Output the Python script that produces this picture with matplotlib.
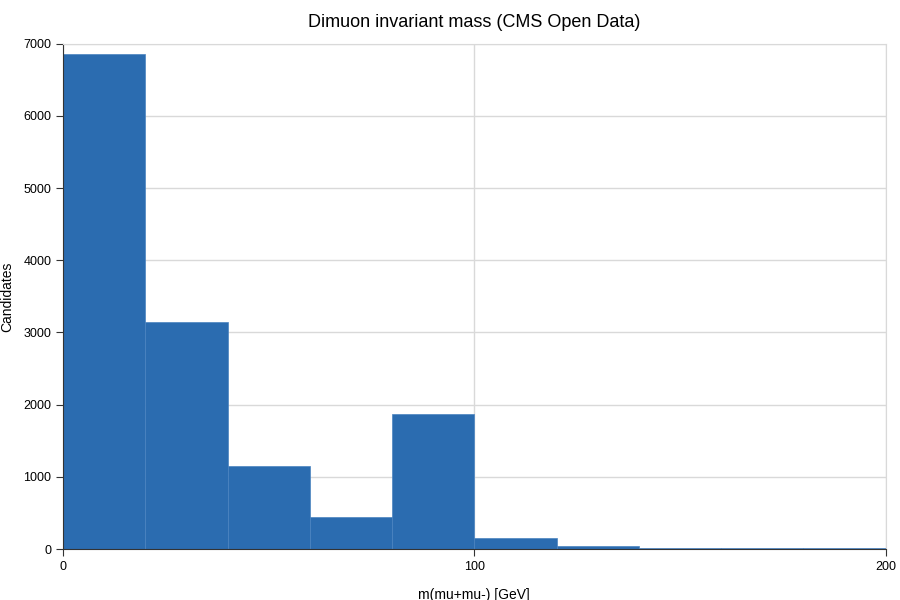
import numpy as np
import matplotlib.pyplot as plt

plt.rcParams["font.family"] = ["Liberation Sans", "DejaVu Sans"]

# histogram bins and counts
bin_edges = [0, 20, 40, 60, 80, 100, 120, 140, 160, 180, 200]
counts = [6860, 3150, 1150, 440, 1870, 150, 38, 18, 14, 20]

fig = plt.figure(figsize=(9, 6), dpi=100)
ax = fig.add_axes([0.07, 0.085, 0.914, 0.842])

lefts = np.array(bin_edges[:-1])
widths = np.diff(bin_edges)
ax.bar(lefts, counts, width=widths, align="edge", color="#2b6cb0",
       edgecolor="#4a83c0", linewidth=0.5, zorder=2)

ax.set_xlim(0, 200)
ax.set_ylim(0, 7000)
ax.set_xticks([0, 100, 200])
ax.set_yticks(range(0, 7001, 1000))
ax.grid(True, color="#d9d9d9", linewidth=1, zorder=0)
for s in ["top", "right"]:
    ax.spines[s].set_color("#d9d9d9")
ax.spines["left"].set_color("#333333")
ax.spines["bottom"].set_color("#333333")
ax.tick_params(labelsize=9, color="#333333", length=5)

ax.set_title("Dimuon invariant mass (CMS Open Data)", fontsize=13, pad=12)
ax.set_xlabel("m(mu+mu-) [GeV]", fontsize=10)
ax.set_ylabel("Candidates", fontsize=10)
ax.xaxis.set_label_coords(0.5, -0.078)
ax.yaxis.set_label_coords(-0.059, 0.5)

fig.savefig("out.png")
